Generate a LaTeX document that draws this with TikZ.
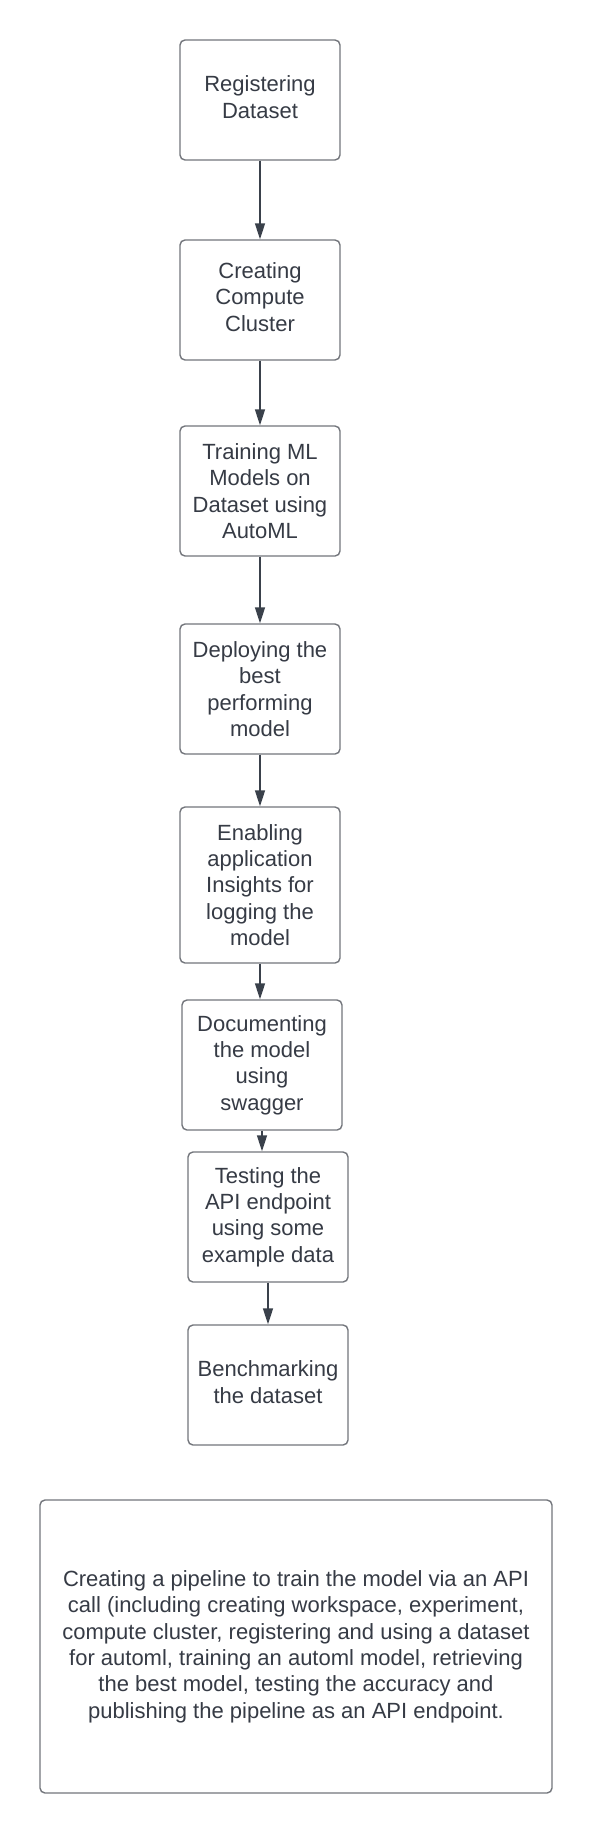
\documentclass[tikz,border=0pt]{standalone}
\usepackage{fontspec}
\setmainfont{Liberation Sans}
\usetikzlibrary{arrows.meta}
\definecolor{txt}{HTML}{363B45}
\definecolor{edge}{HTML}{73767C}
\definecolor{arr}{HTML}{3A414B}
\begin{document}
\begin{tikzpicture}[x=1pt,y=-1pt,
  stepbox/.style={draw=edge,line width=1.4pt,rounded corners=5pt,fill=white,
    text=txt,align=center,inner sep=0pt,minimum width=160pt,
    font=\fontsize{22}{26.4}\selectfont},
  raised/.style={text depth=6pt},
  flow/.style={draw=arr,line width=1.4pt,-{Triangle[length=16pt,width=10pt]}}]
\useasboundingbox (0,0) rectangle (592,1833);
\fill[white] (0,0) rectangle (592,1833);
\node[stepbox,raised,minimum height=120pt] (b1) at (260,100) {Registering\\Dataset};
\node[stepbox,raised,minimum height=120pt] (b2) at (260,300) {Creating\\Compute\\Cluster};
\node[stepbox,minimum height=130pt] (b3) at (260,491) {Training ML\\Models on\\Dataset using\\AutoML};
\node[stepbox,minimum height=130pt] (b4) at (260,689) {Deploying the\\best\\performing\\model};
\node[stepbox,minimum height=156pt] (b5) at (260,885) {Enabling\\application\\Insights for\\logging the\\model};
\node[stepbox,minimum height=130pt] (b6) at (262,1065) {Documenting\\the model\\using\\swagger};
\node[stepbox,minimum height=130pt] (b7) at (268,1217) {Testing the\\API endpoint\\using some\\example data};
\node[stepbox,raised,minimum height=120pt] (b8) at (268,1385) {Benchmarking\\the dataset};
\node[stepbox,minimum width=512pt,minimum height=293pt] (b9) at (296,1646.5)
  {Creating a pipeline to train the model via an API\\
   call (including creating workspace, experiment,\\
   compute cluster, registering and using a dataset\\
   for automl, training an automl model, retrieving\\
   the best model, testing the accuracy and\\
   publishing the pipeline as an API endpoint.};
\foreach \a/\b in {b1/b2,b2/b3,b3/b4,b4/b5,b5/b6,b6/b7,b7/b8}
  \draw[flow] (\a.south) -- (\a.south |- \b.north);
\end{tikzpicture}
\end{document}
